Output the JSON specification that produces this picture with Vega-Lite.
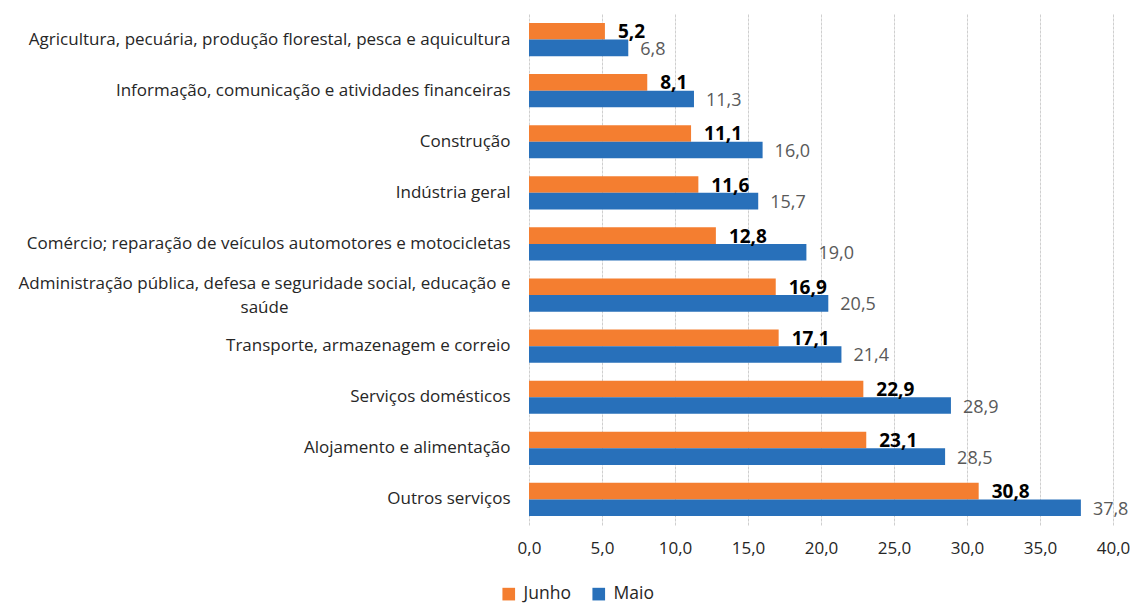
{
  "$schema": "https://vega.github.io/schema/vega-lite/v6.json",
  "width": 584,
  "height": 511,
  "autosize": {"type": "none"},
  "padding": {"left": 529, "top": 14, "right": 19, "bottom": 80},
  "background": "white",
  "config": {
    "view": {"stroke": null},
    "locale": {"number": {"decimal": ",", "thousands": ".", "grouping": [3], "currency": ["R$", ""]}},
    "font": "Open Sans"
  },
  "data": {
    "values": [
      {"setor": "Agricultura, pecuária, produção florestal, pesca e aquicultura", "mes": "Junho", "valor": 5.2},
      {"setor": "Agricultura, pecuária, produção florestal, pesca e aquicultura", "mes": "Maio", "valor": 6.8},
      {"setor": "Informação, comunicação e atividades financeiras", "mes": "Junho", "valor": 8.1},
      {"setor": "Informação, comunicação e atividades financeiras", "mes": "Maio", "valor": 11.3},
      {"setor": "Construção", "mes": "Junho", "valor": 11.1},
      {"setor": "Construção", "mes": "Maio", "valor": 16.0},
      {"setor": "Indústria geral", "mes": "Junho", "valor": 11.6},
      {"setor": "Indústria geral", "mes": "Maio", "valor": 15.7},
      {"setor": "Comércio; reparação de veículos automotores e motocicletas", "mes": "Junho", "valor": 12.8},
      {"setor": "Comércio; reparação de veículos automotores e motocicletas", "mes": "Maio", "valor": 19.0},
      {"setor": "Administração pública, defesa e seguridade social, educação e saúde", "mes": "Junho", "valor": 16.9},
      {"setor": "Administração pública, defesa e seguridade social, educação e saúde", "mes": "Maio", "valor": 20.5},
      {"setor": "Transporte, armazenagem e correio", "mes": "Junho", "valor": 17.1},
      {"setor": "Transporte, armazenagem e correio", "mes": "Maio", "valor": 21.4},
      {"setor": "Serviços domésticos", "mes": "Junho", "valor": 22.9},
      {"setor": "Serviços domésticos", "mes": "Maio", "valor": 28.9},
      {"setor": "Alojamento e alimentação", "mes": "Junho", "valor": 23.1},
      {"setor": "Alojamento e alimentação", "mes": "Maio", "valor": 28.5},
      {"setor": "Outros serviços", "mes": "Junho", "valor": 30.8},
      {"setor": "Outros serviços", "mes": "Maio", "valor": 37.8}
    ]
  },
  "encoding": {
    "y": {
      "field": "setor",
      "type": "nominal",
      "sort": null,
      "title": null,
      "scale": {"paddingInner": 0.35, "paddingOuter": 0.175},
      "axis": {
        "domain": false,
        "ticks": false,
        "labelFont": "Open Sans",
        "labelFontSize": 17,
        "labelColor": "#262626",
        "labelLimit": 600,
        "labelLineHeight": 24,
        "labelPadding": {"condition": {"test": "datum.value == 'Administração pública, defesa e seguridade social, educação e saúde'", "value": 265}, "value": 19},
        "labelOffset": {"condition": {"test": "datum.value == 'Administração pública, defesa e seguridade social, educação e saúde'", "value": -11}, "value": 0},
        "labelAlign": {"condition": {"test": "datum.value == 'Administração pública, defesa e seguridade social, educação e saúde'", "value": "center"}, "value": "right"},
        "labelExpr": "datum.value == 'Administração pública, defesa e seguridade social, educação e saúde' ? ['Administração pública, defesa e seguridade social, educação e', 'saúde'] : datum.value"
      }
    },
    "yOffset": {"field": "mes", "type": "nominal", "sort": ["Junho", "Maio"]},
    "x": {
      "field": "valor",
      "type": "quantitative",
      "title": null,
      "scale": {"domain": [0, 40], "nice": false},
      "axis": {
        "values": [0, 5, 10, 15, 20, 25, 30, 35, 40],
        "format": ".1f",
        "domain": false,
        "ticks": false,
        "grid": true,
        "gridColor": "#CFCFCF",
        "gridWidth": 1,
        "gridDash": [3, 1],
        "labelFlush": false,
        "labelOverlap": false,
        "labelFont": "Open Sans",
        "labelFontSize": 17,
        "labelColor": "#262626",
        "labelPadding": 15
      }
    }
  },
  "layer": [
    {
      "mark": {"type": "bar"},
      "encoding": {
        "color": {
          "field": "mes",
          "type": "nominal",
          "scale": {"domain": ["Junho", "Maio"], "range": ["#F47E30", "#2870BA"]},
          "legend": {
            "title": null,
            "orient": "none",
            "direction": "horizontal",
            "legendX": -29,
            "legendY": 571,
            "symbolType": "square",
            "symbolSize": 160,
            "symbolStrokeWidth": 0,
            "labelFont": "Open Sans",
            "labelFontSize": 17.5,
            "labelColor": "#262626",
            "columnPadding": 19,
            "labelOffset": 6
          }
        }
      }
    },
    {
      "transform": [{"filter": "datum.mes == 'Junho'"}],
      "mark": {"type": "text", "align": "left", "baseline": "middle", "dx": 13, "dy": 1, "fontSize": 19, "fontWeight": "bold", "color": "#000000", "font": "Open Sans"},
      "encoding": {"text": {"field": "valor", "type": "quantitative", "format": ".1f"}}
    },
    {
      "transform": [{"filter": "datum.mes == 'Maio'"}],
      "mark": {"type": "text", "align": "left", "baseline": "middle", "dx": 12, "dy": 2, "fontSize": 18, "color": "#595959", "font": "Open Sans"},
      "encoding": {"text": {"field": "valor", "type": "quantitative", "format": ".1f"}}
    }
  ]
}
